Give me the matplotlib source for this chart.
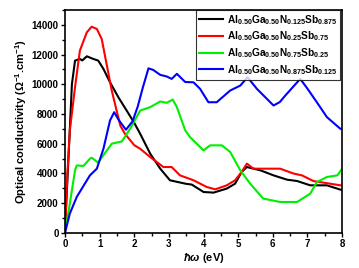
import matplotlib
matplotlib.use('Agg')
import matplotlib.pyplot as plt
from matplotlib.ticker import MultipleLocator

plt.rcParams['font.family'] = ['Liberation Sans', 'DejaVu Sans']
plt.rcParams['font.weight'] = 'bold'
plt.rcParams['mathtext.fontset'] = 'custom'
plt.rcParams['mathtext.rm'] = 'Liberation Sans:bold'
plt.rcParams['mathtext.bf'] = 'Liberation Sans:bold'
plt.rcParams['mathtext.it'] = 'Liberation Sans:italic:bold'
plt.rcParams['mathtext.bfit'] = 'Liberation Sans:italic:bold'
plt.rcParams['mathtext.default'] = 'bf'

# data
x_black = [0, 0.1, 0.2, 0.29, 0.43, 0.5, 0.63, 0.82, 0.96, 1.11, 1.3, 1.54, 1.78, 2.0, 2.17,
           2.46, 2.75, 3.03, 3.3, 3.5, 3.66, 4.0, 4.29, 4.67, 4.91, 5.1, 5.25, 5.64, 6.02,
           6.41, 6.7, 7.08, 7.56, 7.95, 8.0]
y_black = [200, 5000, 10000, 11590, 11700, 11600, 11880, 11700, 11590, 11030, 10130, 9130, 8230,
           7400, 6670, 5330, 4320, 3540, 3400, 3300, 3250, 2750, 2710, 2980, 3310, 4100, 4430,
           4210, 3870, 3580, 3490, 3200, 3200, 2910, 2900]

x_red = [0, 0.07, 0.14, 0.29, 0.43, 0.63, 0.77, 0.92, 1.06, 1.2, 1.35, 1.49, 1.6, 1.73, 2.0,
         2.17, 2.46, 2.84, 3.08, 3.32, 3.71, 4.09, 4.34, 4.67, 4.91, 5.1, 5.25, 5.44, 6.21,
         6.6, 6.84, 7.17, 7.95, 8.0]
y_red = [0, 4000, 6890, 9800, 12260, 13490, 13870, 13720, 13050, 11370, 9580, 8230, 7200, 6670,
         5900, 5660, 5100, 4430, 4430, 3870, 3540, 3090, 2930, 3200, 3540, 4100, 4660, 4320,
         4320, 3990, 3870, 3490, 3200, 3200]

x_green = [0, 0.14, 0.29, 0.34, 0.53, 0.72, 0.77, 0.96, 1.1, 1.35, 1.64, 1.88, 2.17, 2.46, 2.75,
           2.94, 3.11, 3.23, 3.47, 3.61, 4.0, 4.19, 4.53, 4.77, 5.06, 5.35, 5.72, 6.21, 6.7,
           7.08, 7.27, 7.56, 7.86, 8.0]
y_green = [0, 1970, 4210, 4540, 4500, 4990, 5060, 4720, 5200, 6000, 6150, 7000, 8230, 8460, 8840,
           8750, 8970, 8460, 6900, 6440, 5550, 5890, 5890, 5440, 4210, 3300, 2310, 2080, 2080,
           2640, 3420, 3760, 3870, 4320]

x_blue = [0, 0.14, 0.34, 0.72, 0.92, 1.11, 1.3, 1.42, 1.55, 1.76, 1.95, 2.1, 2.25, 2.41, 2.55,
          2.75, 2.94, 3.08, 3.23, 3.47, 3.71, 3.9, 4.14, 4.38, 4.77, 5.06, 5.27, 5.54, 6.02,
          6.2, 6.36, 6.79, 7.0, 7.27, 7.56, 7.95, 8.0]
y_blue = [0, 1300, 2420, 3870, 4320, 5660, 7560, 8120, 7600, 6940, 7500, 8500, 9800, 11070, 10960,
          10630, 10520, 10360, 10700, 10150, 10130, 9690, 8790, 8790, 9580, 9910, 10470, 9690,
          8570, 8800, 9240, 10360, 9700, 8790, 7790, 7000, 7000]

labels = [r'$Al_{0.50}Ga_{0.50}N_{0.125}Sb_{0.875}$',
          r'$Al_{0.50}Ga_{0.50}N_{0.25}Sb_{0.75}$',
          r'$Al_{0.50}Ga_{0.50}N_{0.75}Sb_{0.25}$',
          r'$Al_{0.50}Ga_{0.50}N_{0.875}Sb_{0.125}$']

fig = plt.figure(figsize=(3.59, 2.68), dpi=100)
ax = fig.add_axes([0.181, 0.131, 0.772, 0.832])

ax.plot(x_black, y_black, color='black', lw=1.5, label=labels[0])
ax.plot(x_red, y_red, color='#ff0000', lw=1.5, label=labels[1])
ax.plot(x_green, y_green, color='#00ee00', lw=1.5, label=labels[2])
ax.plot(x_blue, y_blue, color='#0000ff', lw=1.5, label=labels[3])

ax.set_xlim(0, 8)
ax.set_ylim(0, 15000)
ax.xaxis.set_major_locator(MultipleLocator(1))
ax.xaxis.set_minor_locator(MultipleLocator(0.5))
ax.yaxis.set_major_locator(MultipleLocator(2000))
ax.yaxis.set_minor_locator(MultipleLocator(1000))
ax.tick_params(which='both', labelsize=7, width=1, direction='out')
ax.tick_params(which='major', length=3, pad=1.5)
ax.tick_params(which='minor', length=2)
for s in ax.spines.values():
    s.set_linewidth(1.2)

ax.set_xlabel(r'$\mathbfit{\hbar\omega}$ (eV)', fontsize=8, fontweight='bold', labelpad=1)
ax.set_ylabel(r'Optical conductivity ($\Omega^{-1}$.cm$^{-1}$)', fontsize=8, fontweight='bold', labelpad=2)

leg = ax.legend(loc='upper right', bbox_to_anchor=(0.992, 1.0), fontsize=7.3, frameon=True,
                fancybox=False, edgecolor='black', borderaxespad=0.0, handlelength=2.3,
                handletextpad=0.4, labelspacing=0.28, borderpad=0.3)
leg.get_frame().set_linewidth(0.8)

fig.savefig('out.png', dpi=100)
